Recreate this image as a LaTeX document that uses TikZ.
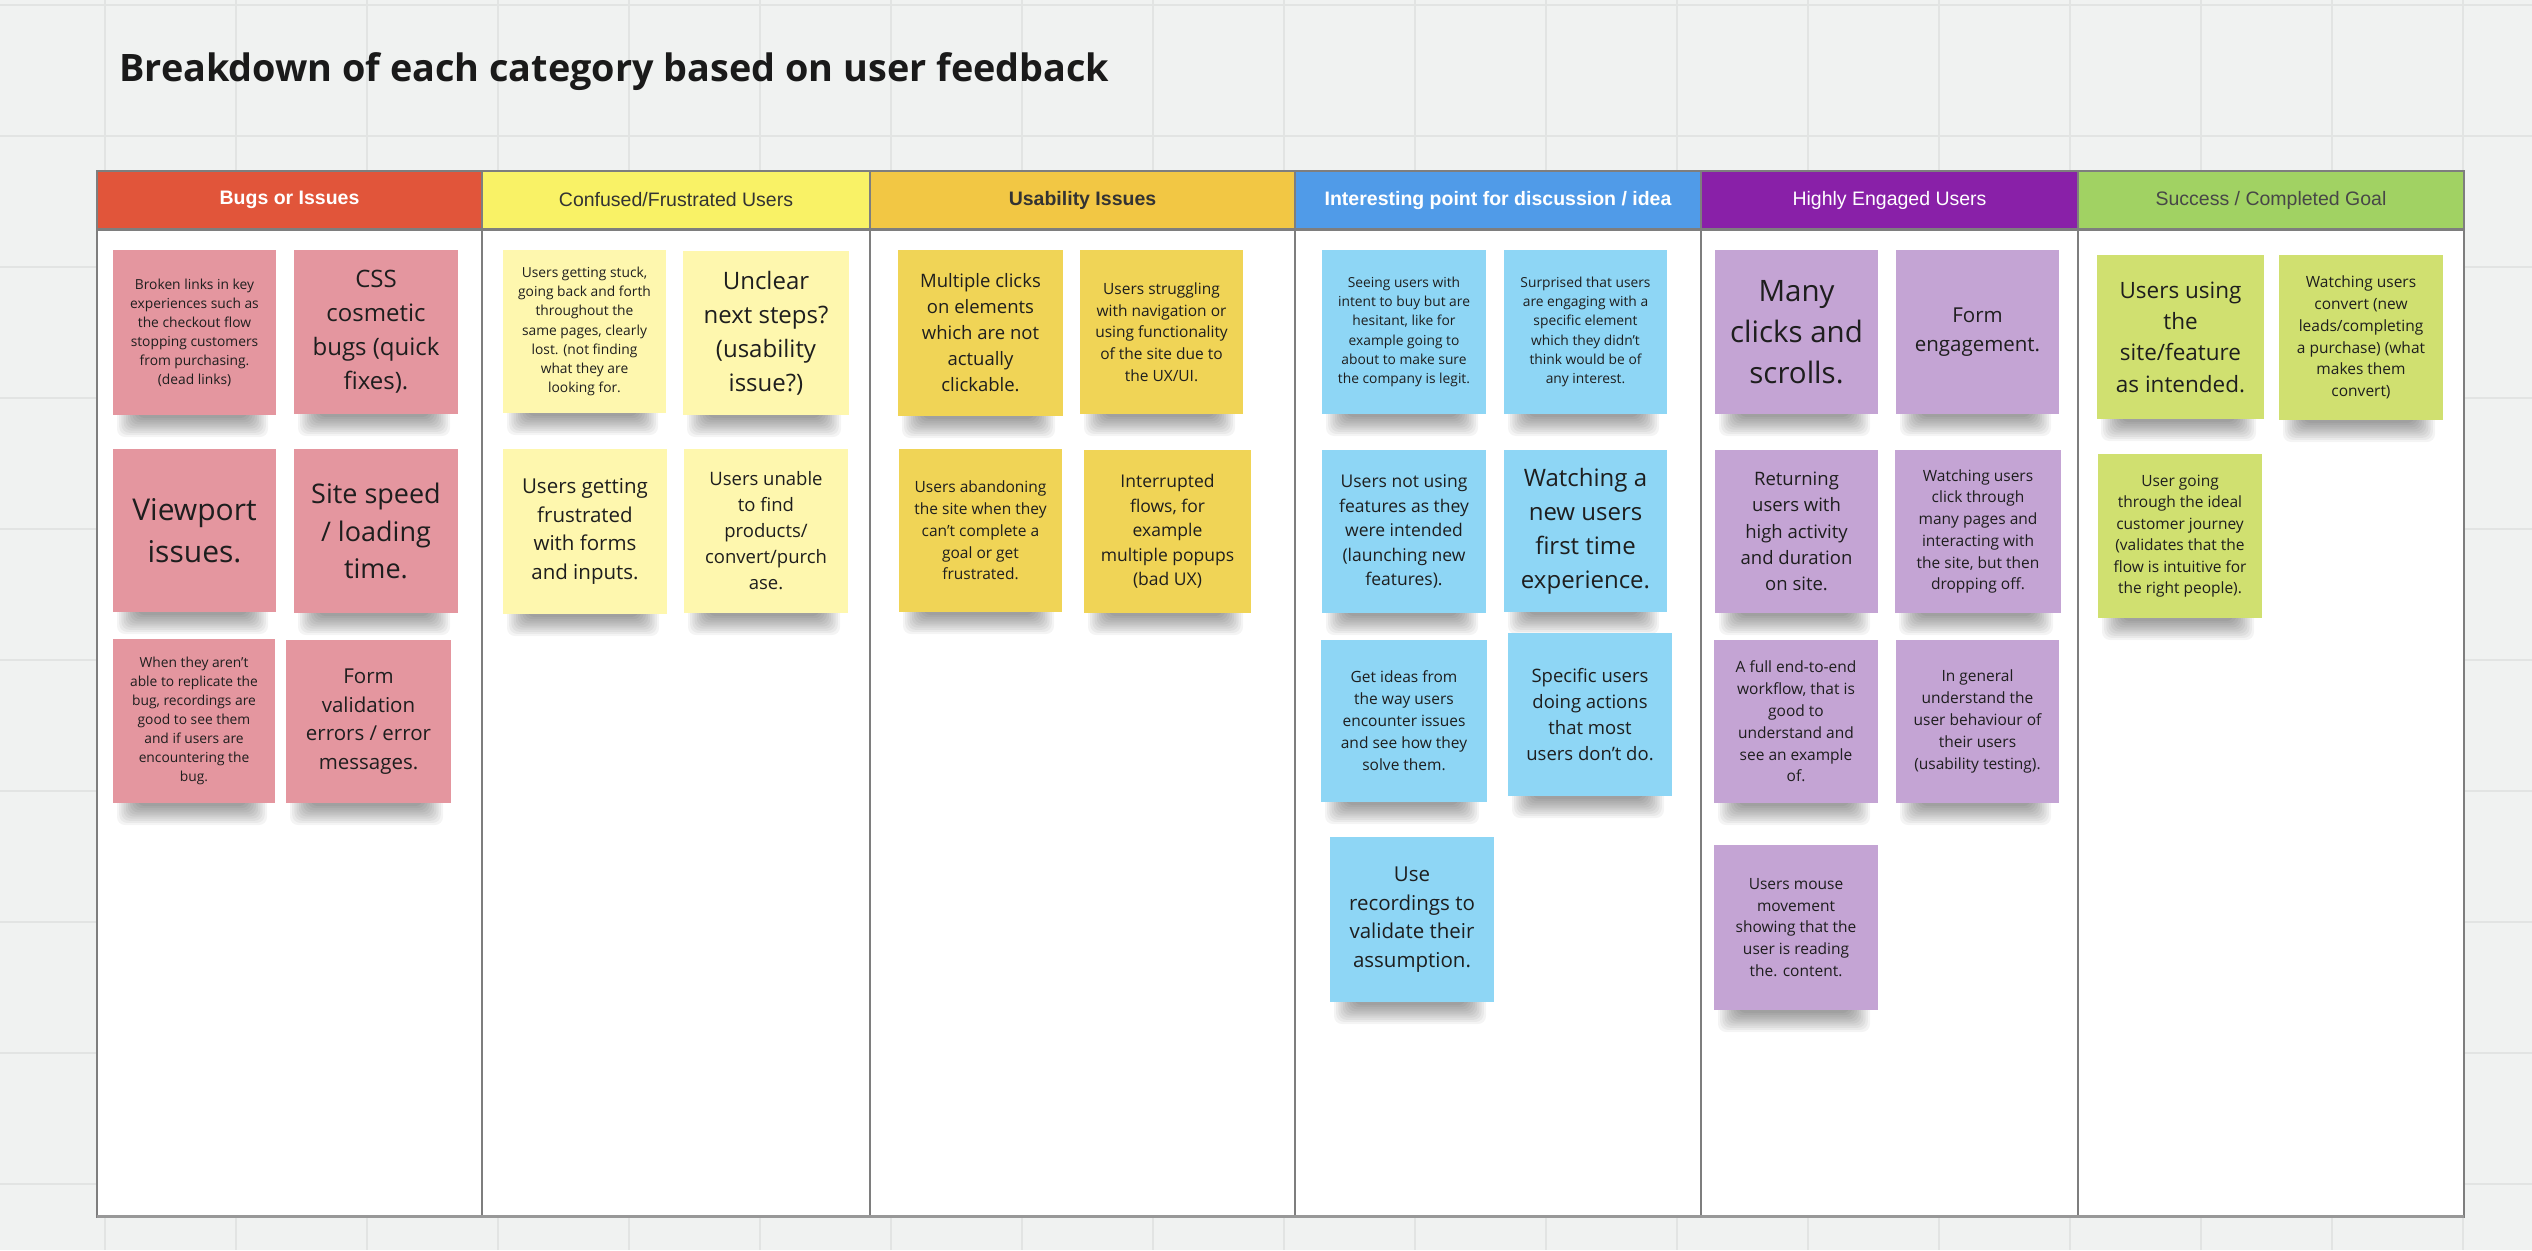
\documentclass[tikz,border=0pt]{standalone}
\usepackage{fontspec}
\setmainfont{Open Sans}
\newfontfamily\hdrfont{Liberation Sans}
\definecolor{bgc}{HTML}{F0F2F1}
\definecolor{gridc}{HTML}{E2E4E3}
\definecolor{bordc}{HTML}{7E7E7E}
\definecolor{titlec}{HTML}{1A1A1A}
\definecolor{notetext}{HTML}{1E1E1E}
\definecolor{hred}{HTML}{E1553A}
\definecolor{hyel}{HTML}{F9F266}
\definecolor{horg}{HTML}{F2C744}
\definecolor{hblu}{HTML}{509BE8}
\definecolor{hpur}{HTML}{8920A8}
\definecolor{hgrn}{HTML}{A1D263}
\definecolor{npink}{HTML}{E4969F}
\definecolor{nlyel}{HTML}{FEF7AE}
\definecolor{nyel}{HTML}{F0D456}
\definecolor{nblu}{HTML}{8ED6F5}
\definecolor{npur}{HTML}{C4A4D4}
\definecolor{ngrn}{HTML}{D0E070}
\definecolor{hdark}{HTML}{333333}
\tikzset{
  gridline/.style={draw=gridc, line width=2pt},
  hdr/.style={draw=bordc, line width=1.2pt, minimum height=58pt, inner sep=0pt},
  hdrtext/.style={font=\hdrfont\fontsize{19.5}{23}\selectfont},
  hdrbold/.style={font=\hdrfont\bfseries\fontsize{19.5}{23}\selectfont},
  sticky/.style={inner sep=0pt, align=center, text=notetext},
  shadowlayer/.style={black, opacity=0.045, rounded corners=8pt},
  boardline/.style={draw=bordc, line width=1.2pt},
}
% name, x1, y1, x2, y2, fill, {size}{lead}, text
\newcommand\stickynote[8]{%
  \foreach \i in {0,...,9}{\fill[shadowlayer] ({#2+4+\i*2.2},{#5-8}) rectangle ({#4-8-\i*2.2},{#5+22-\i*2.1});}
  \node[sticky, fill=#6, minimum width={(#4-#2)*1pt}, minimum height={(#5-#3)*1pt}, font={\fontsize#7\selectfont}] (#1) at ({(#2+#4)/2},{(#3+#5)/2}) {#8};
}
\begin{document}
\begin{tikzpicture}[x=1pt,y=-1pt]
\useasboundingbox (0,0) rectangle (2532,1250);
\fill[bgc] (0,0) rectangle (2532,1250);
\foreach \k in {0,...,18} \draw[gridline] ({104.5+131*\k},0) -- ({104.5+131*\k},1250);
\foreach \k in {0,...,9} \draw[gridline] (0,{5+131*\k}) -- (2532,{5+131*\k});

\node[anchor=base west, inner sep=0pt, text=titlec, font=\bfseries\fontsize{37.8}{44}\selectfont] (title) at (119,81) {Breakdown of each category based on user feedback};

% board
\fill[white] (97,171) rectangle (2464,1217);
\node[hdr, hdrbold, fill=hred, text=white, minimum width=385pt] (h1) at (289.5,200) {Bugs or Issues};
\node[hdr, hdrtext, fill=hyel, text=hdark, minimum width=388pt] (h2) at (676,200) {Confused/Frustrated Users};
\node[hdr, hdrbold, fill=horg, text=hdark, minimum width=425pt] (h3) at (1082.5,200) {Usability Issues};
\node[hdr, hdrbold, fill=hblu, text=white, minimum width=406pt] (h4) at (1498,200) {Interesting point for discussion / idea};
\node[hdr, hdrtext, fill=hpur, text=white, minimum width=377pt] (h5) at (1889.5,200) {Highly Engaged Users};
\node[hdr, hdrtext, fill=hgrn, text=hdark!90, minimum width=386pt] (h6) at (2271,200) {Success / Completed Goal};
\draw[boardline] (97,171) rectangle (2464,1217);
\foreach \cx in {482,870,1295,1701,2078} \draw[boardline] (\cx,171) -- (\cx,1217);
\draw[bordc, line width=3pt] (97,229) -- (2464,229);
\draw[bordc!80, line width=3pt] (97,1216) -- (2464,1216);

% Bugs or Issues
\stickynote{p1}{113}{250}{276}{415}{npink}{{13.8}{19}}{Broken links in key\\experiences such as\\the checkout flow\\stopping customers\\from purchasing.\\(dead links)}
\stickynote{p2}{294}{250}{458}{414}{npink}{{24}{34}}{CSS\\cosmetic\\bugs (quick\\fixes).}
\stickynote{p3}{113}{449}{276}{612}{npink}{{30}{41.5}}{Viewport\\issues.}
\stickynote{p4}{294}{449}{458}{613}{npink}{{27}{37.8}}{Site speed\\/ loading\\time.}
\stickynote{p5}{113}{639}{275}{803}{npink}{{13.8}{19}}{When they aren't\\able to replicate the\\bug, recordings are\\good to see them\\and if users are\\encountering the\\bug.}
\stickynote{p6}{286}{640}{451}{803}{npink}{{20.5}{28.6}}{Form\\validation\\errors / error\\messages.}

% Confused
\stickynote{y1}{503}{250}{666}{413}{nlyel}{{13.8}{19.1}}{Users getting stuck,\\going back and forth\\throughout the\\same pages, clearly\\lost. (not finding\\what they are\\looking for.}
\stickynote{y2}{683}{251}{849}{415}{nlyel}{{24}{34}}{Unclear\\next steps?\\(usability\\issue?)}
\stickynote{y3}{503}{449}{667}{614}{nlyel}{{20.5}{28.8}}{Users getting\\frustrated\\with forms\\and inputs.}
\stickynote{y4}{684}{449}{848}{613}{nlyel}{{18.5}{26}}{Users unable\\to find\\products/\\convert/purch\\ase.}

% Usability
\stickynote{u1}{898}{250}{1063}{416}{nyel}{{18.5}{26}}{Multiple clicks\\on elements\\which are not\\actually\\clickable.}
\stickynote{u2}{1080}{250}{1243}{414}{nyel}{{15.5}{21.7}}{Users struggling\\with navigation or\\using functionality\\of the site due to\\the UX/UI.}
\stickynote{u3}{899}{449}{1062}{612}{nyel}{{15.5}{21.8}}{Users abandoning\\the site when they\\can't complete a\\goal or get\\frustrated.}
\stickynote{u4}{1084}{450}{1251}{613}{nyel}{{17.5}{24.6}}{Interrupted\\flows, for\\example\\multiple popups\\(bad UX)}

% Interesting
\stickynote{b1}{1322}{250}{1486}{414}{nblu}{{13.8}{19.3}}{Seeing users with\\intent to buy but are\\hesitant, like for\\example going to\\about to make sure\\the company is legit.}
\stickynote{b2}{1504}{250}{1667}{414}{nblu}{{13.8}{19.3}}{Surprised that users\\are engaging with a\\specific element\\which they didn't\\think would be of\\any interest.}
\stickynote{b3}{1322}{450}{1486}{613}{nblu}{{17.5}{24.5}}{Users not using\\features as they\\were intended\\(launching new\\features).}
\stickynote{b4}{1504}{450}{1667}{612}{nblu}{{24}{34}}{Watching a\\new users\\first time\\experience.}
\stickynote{b5}{1321}{640}{1487}{802}{nblu}{{15.5}{22}}{Get ideas from\\the way users\\encounter issues\\and see how they\\solve them.}
\stickynote{b6}{1508}{633}{1672}{796}{nblu}{{18.5}{26.2}}{Specific users\\doing actions\\that most\\users don't do.}
\stickynote{b7}{1330}{837}{1494}{1002}{nblu}{{20.5}{28.7}}{Use\\recordings to\\validate their\\assumption.}

% Highly engaged
\stickynote{e1}{1715}{250}{1878}{414}{npur}{{29.5}{40.8}}{Many\\clicks and\\scrolls.}
\stickynote{e2}{1896}{250}{2059}{414}{npur}{{20.5}{28.7}}{Form\\engagement.}
\stickynote{e3}{1715}{450}{1878}{613}{npur}{{18.5}{26.3}}{Returning\\users with\\high activity\\and duration\\on site.}
\stickynote{e4}{1895}{450}{2061}{613}{npur}{{15.5}{21.7}}{Watching users\\click through\\many pages and\\interacting with\\the site, but then\\dropping off.}
\stickynote{e5}{1714}{640}{1878}{803}{npur}{{15.5}{21.8}}{A full end-to-end\\workflow, that is\\good to\\understand and\\see an example\\of.}
\stickynote{e6}{1896}{640}{2059}{803}{npur}{{15.5}{21.8}}{In general\\understand the\\user behaviour of\\their users\\(usability testing).}
\stickynote{e7}{1714}{845}{1878}{1010}{npur}{{15.5}{21.7}}{Users mouse\\movement\\showing that the\\user is reading\\the. content.}

% Success
\stickynote{g1}{2097}{255}{2264}{419}{ngrn}{{22.5}{31.3}}{Users using\\the\\site/feature\\as intended.}
\stickynote{g2}{2279}{255}{2443}{420}{ngrn}{{15.5}{21.8}}{Watching users\\convert (new\\leads/completing\\a purchase) (what\\makes them\\convert)}
\stickynote{g3}{2098}{454}{2262}{618}{ngrn}{{15.5}{21.5}}{User going\\through the ideal\\customer journey\\(validates that the\\flow is intuitive for\\the right people).}
\end{tikzpicture}
\end{document}
